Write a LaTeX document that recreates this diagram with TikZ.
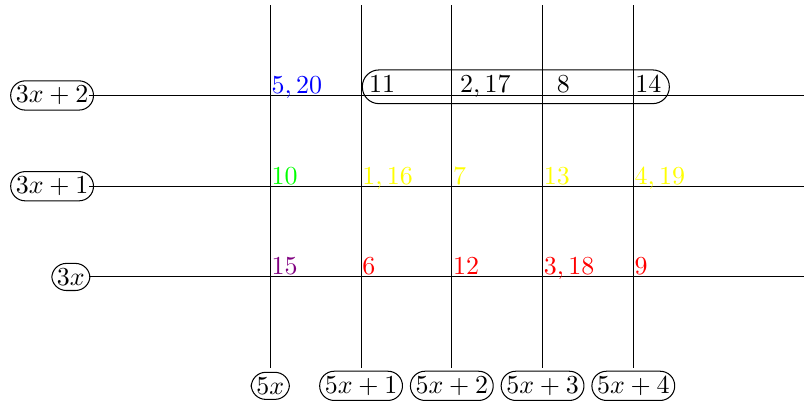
\documentclass[tikz,border=0pt]{standalone}
\usetikzlibrary{positioning}
\definecolor{cblue}{rgb}{0,0,1}
\definecolor{cgreen}{rgb}{0,1,0}
\definecolor{cyellow}{rgb}{1,1,0}
\definecolor{cred}{rgb}{1,0,0}
\definecolor{cviolet}{rgb}{0.5,0,0.5}
\begin{document}
\begin{tikzpicture}[x=35pt,y=35pt,
  lab/.style={draw, rounded corners=5.6pt, inner sep=2pt},
  num/.style={anchor=base west, inner sep=0pt, xshift=0.3pt, yshift=0.8pt},
  grp/.style={draw, rounded corners=6.4pt, inner sep=0pt, minimum width=118.4pt, minimum height=13pt}]
\useasboundingbox (-2.979,-1.3995) rectangle (5.881,3.052);
% row labels
\node[lab] (r2) at (-2.405,2) {$3x+2$};
\node[lab] (r1) at (-2.405,1) {$3x+1$};
\node[lab] (r0) at (-2.198,0) {$3x$};
% column labels
\node[lab] (c0) at (0,-1.2) {$5x$};
\node[lab] (c1) at (1,-1.2) {$5x+1$};
\node[lab] (c2) at (2,-1.2) {$5x+2$};
\node[lab] (c3) at (3,-1.2) {$5x+3$};
\node[lab] (c4) at (4,-1.2) {$5x+4$};
% line endpoints
\foreach \i in {0,1,2,3,4} {
  \coordinate (vb\i) at (\i,-1);
  \coordinate (vt\i) at (\i,3);
  \draw (vb\i) -- (vt\i);
}
\foreach \j in {0,1,2} {
  \coordinate (hl\j) at (-2,\j);
  \coordinate (hr\j) at (5.881,\j);
  \draw (hl\j) -- (hr\j);
}
% numbers
\node[num, text=cblue] (n520) at (0,2) {$5,20$};
\node[num, text=cgreen] (n10) at (0,1) {$10$};
\node[num, text=cviolet] (n15) at (0,0) {$15$};
\node[num, text=cyellow] (n116) at (1,1) {$1,16$};
\node[num, text=cyellow] (n7) at (2,1) {$7$};
\node[num, text=cyellow] (n13) at (3,1) {$13$};
\node[num, text=cyellow] (n419) at (4,1) {$4,19$};
\node[num, text=cred] (n6) at (1,0) {$6$};
\node[num, text=cred] (n12) at (2,0) {$12$};
\node[num, text=cred] (n318) at (3,0) {$3,18$};
\node[num, text=cred] (n9) at (4,0) {$9$};
% black row
\node[anchor=base west, inner sep=0pt] (n11) at (1.082,2.03) {$11$};
\node[anchor=base west, inner sep=0pt] (n217) at (2.086,2.03) {$2,17$};
\node[anchor=base west, inner sep=0pt] (n8) at (3.151,2.03) {$8$};
\node[anchor=base west, inner sep=0pt] (n14) at (4.017,2.03) {$14$};
\node[grp] (box) at (2.7054,2.0955) {};
\end{tikzpicture}
\end{document}
